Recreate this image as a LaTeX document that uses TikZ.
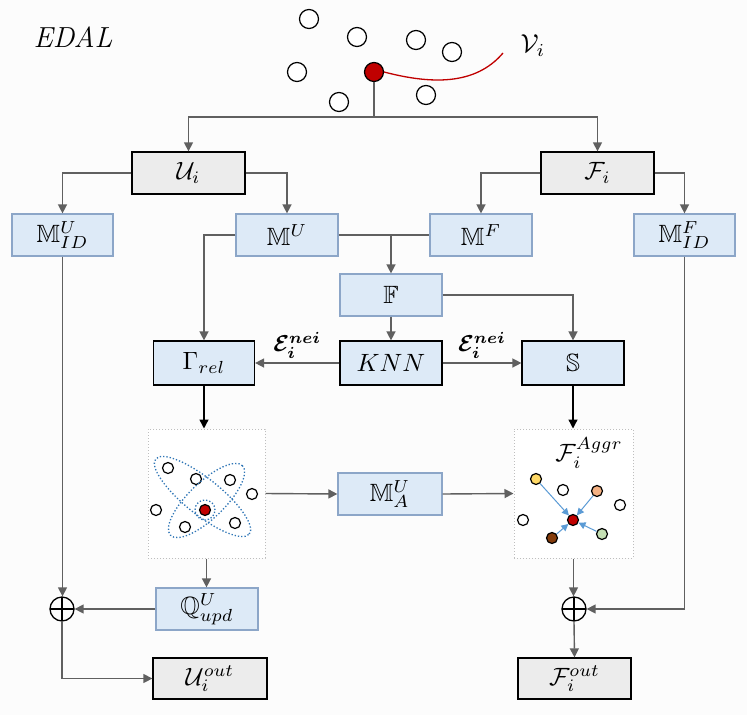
\documentclass[tikz,border=0pt]{standalone}
\usepackage{amsmath,amssymb,graphicx}
\usetikzlibrary{arrows.meta,calc}
\definecolor{bg}{RGB}{252,252,252}
\definecolor{boxfill}{RGB}{221,234,247}
\definecolor{boxedge}{RGB}{140,166,200}
\definecolor{grayfill}{RGB}{236,236,236}
\definecolor{conncol}{RGB}{96,96,96}
\definecolor{dotgray}{RGB}{190,190,190}
\definecolor{elblue}{RGB}{46,117,182}
\definecolor{arrblue}{RGB}{91,155,213}
\definecolor{redn}{RGB}{192,0,0}
\definecolor{yellown}{RGB}{255,217,102}
\definecolor{orangen}{RGB}{244,177,131}
\definecolor{brownn}{RGB}{132,60,12}
\definecolor{greenn}{RGB}{197,224,180}
\newcommand\mathtxt[1]{\scalebox{2.5}{$#1$}}
\newcommand\mathlab[1]{\scalebox{2.3}{$#1$}}
\begin{document}
\begin{tikzpicture}[x=1pt,y=-1pt,
  bluebox/.style={draw=boxedge, fill=boxfill, line width=1.2pt, minimum width=102pt, minimum height=42pt, inner sep=0pt},
  blackbox/.style={bluebox, draw=black, minimum height=44pt},
  graybox/.style={draw=black, fill=grayfill, line width=1.3pt, minimum width=113pt, minimum height=42pt, inner sep=0pt},
  conn/.style={draw=conncol, line width=1.4pt},
  arr/.style={conn, -{Triangle[length=9pt,width=9pt]}},
  blackarr/.style={draw=black, line width=1.4pt, -{Triangle[length=9pt,width=9pt]}},
  bigcirc/.style={circle, draw=black, line width=1.2pt, fill=white, minimum size=19pt, inner sep=0pt},
  smallcirc/.style={circle, draw=black, line width=1.2pt, fill=white, minimum size=11pt, inner sep=0pt},
  dotbox/.style={draw=dotgray, dotted, line width=1pt, fill=white, minimum height=129pt, inner sep=0pt},
  ellip/.style={draw=elblue, dotted, line width=1.3pt},
  bluearr/.style={draw=arrblue, line width=1pt, -{Triangle[length=7pt,width=7pt]}},
  opl/.style={circle, draw=black, line width=1.3pt, minimum size=24pt, inner sep=0pt,
    path picture={\draw[black,line width=1.3pt] (path picture bounding box.north) -- (path picture bounding box.south) (path picture bounding box.west) -- (path picture bounding box.east);}}
]
\fill[bg] (0,0) rectangle (747,715);
\useasboundingbox (0,0) rectangle (747,715);

% title
\node[font=\fontsize{29}{32}\selectfont\itshape] (title) at (73,37) {EDAL};

% top graph
\node[bigcirc] (c1) at (309,19) {};
\node[bigcirc] (c2) at (357,37) {};
\node[bigcirc] (c3) at (416,40) {};
\node[bigcirc] (c4) at (452,52) {};
\node[bigcirc] (c5) at (297,72) {};
\node[bigcirc] (c6) at (339,102) {};
\node[bigcirc] (c7) at (426,95) {};
\node[bigcirc, fill=redn] (vi) at (374,72) {};
\coordinate (vend) at (503,53);
\draw[redn, line width=1.3pt] (vi.east) .. controls (430,84) and (475,86) .. (vend);
\node (vlabel) at (533,46) {\scalebox{2.6}{$\mathcal{V}_i$}};

% boxes
\node[graybox] (Ui) at (188.5,173) {\mathtxt{\mathcal{U}_i}};
\node[graybox] (Fi) at (597.5,173) {\mathtxt{\mathcal{F}_i}};
\node[bluebox, minimum width=101pt] (MIDU) at (62.5,235) {\mathtxt{\mathbb{M}_{ID}^{U}}};
\node[bluebox] (MU) at (287,235) {\mathtxt{\mathbb{M}^{U}}};
\node[bluebox] (MF) at (481,235) {\mathtxt{\mathbb{M}^{F}}};
\node[bluebox, minimum width=101pt] (MIDF) at (684.5,235) {\mathtxt{\mathbb{M}_{ID}^{F}}};
\node[bluebox] (FF) at (391,295) {\mathtxt{\mathbb{F}}};
\node[blackbox, minimum width=101pt] (Gam) at (204,363) {\mathtxt{\Gamma_{rel}}};
\node[blackbox] (KNN) at (391,363) {\mathtxt{KNN}};
\node[blackbox] (SS) at (573,363) {\mathtxt{\mathbb{S}}};
\node[dotbox, minimum width=117pt] (LB) at (206.5,493.5) {};
\node[bluebox, minimum width=104pt] (MA) at (390,494) {\mathtxt{\mathbb{M}_{A}^{U}}};
\node[dotbox, minimum width=119pt] (RB) at (573.5,493.5) {};
\node[bluebox] (Q) at (207,609) {\mathtxt{\mathbb{Q}_{upd}^{U}}};
\node[opl] (opL) at (62,609) {};
\node[opl] (opR) at (574,609) {};
\node[graybox, minimum width=114pt, minimum height=41pt] (Uout) at (210,678.5) {\mathtxt{\mathcal{U}_i^{out}}};
\node[graybox, minimum height=41pt] (Fout) at (574.5,678.5) {\mathtxt{\mathcal{F}_i^{out}}};

% left cluster
\node[smallcirc] (l1) at (168,468) {};
\node[smallcirc] (l2) at (196,479) {};
\node[smallcirc] (l3) at (230,480) {};
\node[smallcirc] (l4) at (252,494) {};
\node[smallcirc] (l5) at (156,510) {};
\node[smallcirc] (l6) at (185,527) {};
\node[smallcirc] (l7) at (235,523) {};
\draw[ellip, rotate around={-38.7:(202.5,496.5)}] (202.5,496.5) ellipse [x radius=60pt, y radius=18pt];
\draw[ellip, rotate around={44:(206.5,500.5)}] (206.5,500.5) ellipse [x radius=50pt, y radius=18pt];
\draw[ellip] (205,510) circle [radius=10pt];
\node[smallcirc, fill=redn] (lr) at (205,510) {};

% right cluster
\node (aggr) at (589,453) {\scalebox{2.5}{$\mathcal{F}_i^{Aggr}$}};
\node[smallcirc, fill=yellown] (r1) at (536,479) {};
\node[smallcirc] (r2) at (563,490) {};
\node[smallcirc, fill=orangen] (r3) at (597,491) {};
\node[smallcirc] (r4) at (620,505) {};
\node[smallcirc] (r5) at (523,520) {};
\node[smallcirc, fill=brownn] (r6) at (552,538) {};
\node[smallcirc, fill=greenn] (r7) at (602,534) {};
\node[smallcirc, fill=redn] (rr) at (573,520) {};
\draw[bluearr] (r1) -- (rr);
\draw[bluearr] (r3) -- (rr);
\draw[bluearr] (r6) -- (rr);
\draw[bluearr] (r7) -- (rr);

% connectors
\coordinate (split) at (374,117);
\draw[conn] (vi.south) -- (split);
\draw[arr] (split) -| (Ui.north);
\draw[arr] (split) -| (Fi.north);
\draw[arr] (Ui.west) -| (MIDU.north);
\draw[arr] (Ui.east) -| (MU.north);
\draw[arr] (Fi.west) -| (MF.north);
\draw[arr] (Fi.east) -| (MIDF.north);
\draw[arr] (MU.west) -| (Gam.north);
\coordinate (merge) at (391,235);
\draw[conn] (MU.east) -- (MF.west);
\draw[arr] (merge) -- (FF.north);
\draw[arr] (FF.east) -| (SS.north);
\draw[arr] (FF.south) -- (KNN.north);
\draw[arr] (KNN.west) -- node[above=0pt] {\mathlab{\boldsymbol{\mathcal{E}_i^{nei}}}} (Gam.east);
\draw[arr] (KNN.east) -- node[above=0pt] {\mathlab{\boldsymbol{\mathcal{E}_i^{nei}}}} (SS.west);
\draw[blackarr] (Gam.south) -- (Gam.south |- LB.north);
\draw[blackarr] (SS.south) -- (SS.south |- RB.north);
\draw[arr] (LB.east) -- (MA.west);
\draw[arr] (MA.east) -- (RB.west);
\draw[arr] (LB.south) -- (LB.south |- Q.north);
\draw[arr] (MIDU.south) -- (MIDU.south |- opL.north);
\draw[arr] (Q.west) -- (opL.east);
\draw[arr] (opL.south) |- (Uout.west);
\draw[arr] (RB.south) -- (RB.south |- opR.north);
\draw[arr] (MIDF.south) |- (opR.east);
\draw[arr] (opR.south) -- (Fout.north);
\end{tikzpicture}
\end{document}
